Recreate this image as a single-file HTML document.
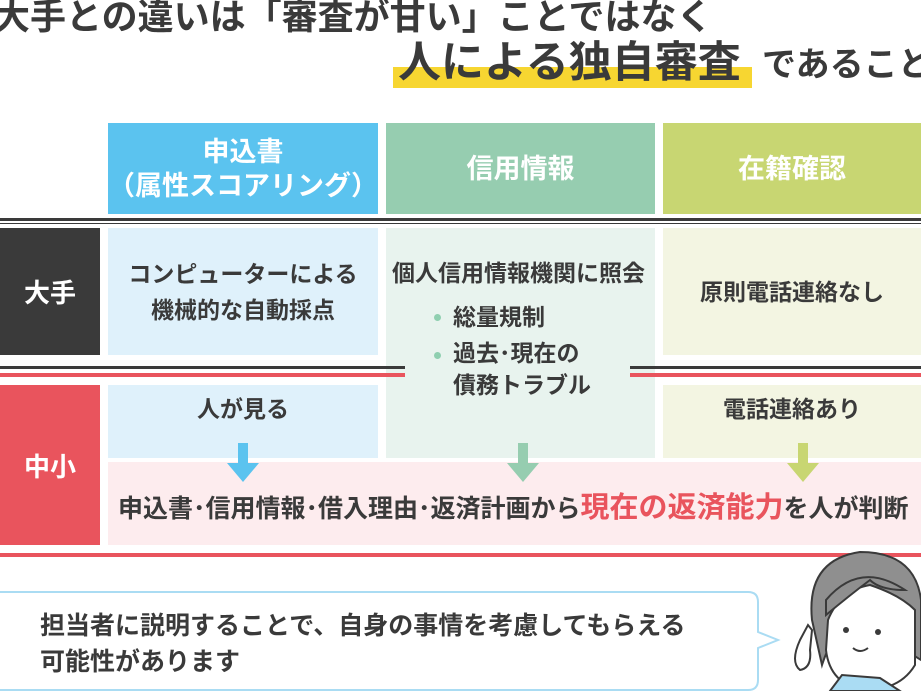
<!DOCTYPE html>
<html><head><meta charset="utf-8">
<style>
*{margin:0;padding:0;box-sizing:border-box}
body{width:921px;height:691px;overflow:hidden;background:#fff;position:relative;font-family:"Liberation Sans","Noto Sans CJK JP",sans-serif;color:#3a3a3a;font-weight:bold}
.a{position:absolute}
.c{display:flex;align-items:center;justify-content:center;text-align:center}
.h{color:#fff;font-size:27px;line-height:34px}
.t{font-size:23px;line-height:36px}
</style></head><body>
<div class="a" style="left:-6px;top:-9px;font-size:36px;line-height:52px;white-space:nowrap;letter-spacing:0px">大手との違いは「審査が甘い」ことではなく</div>
<div class="a" style="left:393px;top:67px;width:359px;height:21px;background:#f7d631"></div>
<div class="a" style="left:398px;top:36px;font-size:43px;white-space:nowrap;line-height:54px">人による独自審査</div>
<div class="a" style="left:762px;top:43px;font-size:34px;white-space:nowrap;line-height:44px">であること</div>

<div class="a c h" style="left:108px;top:123px;width:270px;height:91px;background:#5bc3ef">申込書<br>（属性スコアリング）</div>
<div class="a c h" style="left:386px;top:123px;width:269px;height:91px;background:#96cdb0">信用情報</div>
<div class="a c h" style="left:663px;top:123px;width:258px;height:91px;background:#c8d672">在籍確認</div>

<div class="a" style="left:0;top:218px;width:921px;height:3px;background:#3a3a3a"></div>
<div class="a" style="left:0;top:223px;width:921px;height:1px;background:#3a3a3a"></div>

<div class="a c" style="left:0;top:228px;width:100px;height:127px;background:#3a3a3a;color:#fff;font-size:26px">大手</div>
<div class="a c t" style="left:108px;top:228px;width:270px;height:127px;background:#dff1fb">コンピューターによる<br>機械的な自動採点</div>
<div class="a" style="left:386px;top:228px;width:269px;height:230px;background:#e8f3ee"></div>
<div class="a c t" style="left:663px;top:228px;width:258px;height:127px;background:#f3f5e2">原則電話連絡なし</div>

<div class="a" style="left:0;top:366px;width:405px;height:3px;background:#3a3a3a"></div>
<div class="a" style="left:0;top:373px;width:405px;height:4px;background:#e9545d"></div>
<div class="a" style="left:630px;top:366px;width:291px;height:3px;background:#3a3a3a"></div>
<div class="a" style="left:630px;top:373px;width:291px;height:4px;background:#e9545d"></div>

<div class="a t" style="left:392px;top:255px;white-space:nowrap">個人信用情報機関に照会</div>
<div class="a" style="left:434px;top:314px;width:7px;height:7px;border-radius:50%;background:#8fcfb0"></div>
<div class="a t" style="left:453px;top:299px;white-space:nowrap">総量規制</div>
<div class="a" style="left:434px;top:352px;width:7px;height:7px;border-radius:50%;background:#8fcfb0"></div>
<div class="a t" style="left:453px;top:337px;white-space:nowrap;line-height:32px">過去･現在の<br>債務トラブル</div>

<div class="a c" style="left:0;top:385px;width:100px;height:160px;background:#e9545d;color:#fff;font-size:26px">中小</div>
<div class="a c t" style="left:108px;top:385px;width:270px;height:73px;background:#dff1fb;align-items:flex-start;padding-top:6px">人が見る</div>
<div class="a c t" style="left:663px;top:385px;width:258px;height:73px;background:#f3f5e2;align-items:flex-start;padding-top:6px">電話連絡あり</div>
<div class="a" style="left:108px;top:462px;width:813px;height:83px;background:#fdecee"></div>
<div class="a" style="left:118px;top:489px;white-space:nowrap;font-size:25px;line-height:38px">申込書･信用情報･借入理由･返済計画から<span style="color:#e9545d;font-size:29px">現在の返済能力</span>を人が判断</div>

<svg class="a" style="left:0;top:0" width="921" height="691">
<g fill="#5bc3ef"><rect x="238" y="443" width="10" height="22"/><polygon points="227,463 259,463 243,482"/></g>
<g fill="#96cdb0"><rect x="518" y="443" width="10" height="22"/><polygon points="507,463 539,463 523,482"/></g>
<g fill="#c8d672"><rect x="798" y="443" width="10" height="22"/><polygon points="787,463 819,463 803,482"/></g>
<rect x="0" y="553" width="921" height="4" fill="#e9545d"/>
<path d="M-10 592 H748 Q758 592 758 602 V632 L778 640 L758 648 V680 Q758 690 748 690 H-10 Z" fill="#fff" stroke="#aadcf3" stroke-width="2"/>
<path d="M812 620 Q806 560 860 552 Q915 552 921 600 L921 660 L905 650 Q885 600 850 610 Q830 640 822 665 Z" fill="#8f8f8f" stroke="#3a3a3a" stroke-width="2"/>
<path d="M828 620 Q840 590 870 585 Q900 595 915 610 L915 665 Q900 690 865 690 Q830 685 826 650 Z" fill="#fff" stroke="#3a3a3a" stroke-width="2"/>
<path d="M826 600 Q860 560 905 590 Q880 590 870 580 Q850 595 826 615 Z" fill="#8f8f8f" stroke="#3a3a3a" stroke-width="2"/>
<circle cx="846" cy="630" r="3" fill="#3a3a3a"/><circle cx="878" cy="632" r="3" fill="#3a3a3a"/>
<path d="M853 648 Q860 654 868 648" fill="none" stroke="#3a3a3a" stroke-width="2"/>
<path d="M800 640 L808 625 L812 630 L810 650 Q812 668 800 670 Q790 662 800 640 Z" fill="#fff" stroke="#3a3a3a" stroke-width="2"/>
<path d="M830 691 L842 675 L880 678 L900 691 Z" fill="#aadcf3" stroke="#3a3a3a" stroke-width="2"/>
</svg>
<div class="a" style="left:40px;top:608px;font-size:25px;line-height:36px;white-space:nowrap;font-weight:bold">担当者に説明することで、自身の事情を考慮してもらえる<br>可能性があります</div>
</body></html>
